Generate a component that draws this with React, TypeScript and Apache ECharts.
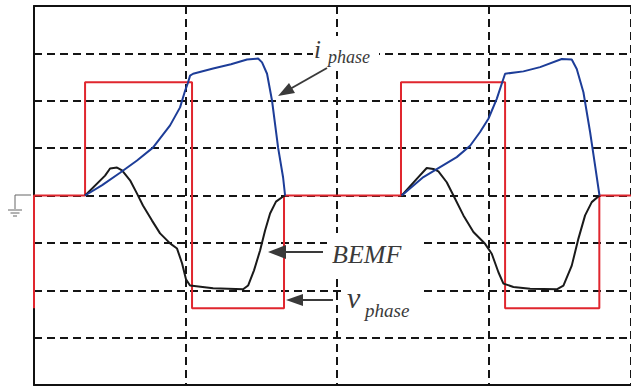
import React, { useEffect, useRef } from "react";
import * as echarts from "echarts";

// x in horizontal divisions, y in vertical divisions (zero = ground level)
const vPhase: [number, number][] = [
  [0, -2.38], [0, 0], [0.337, 0], [0.337, 2.39], [1.043, 2.39], [1.043, -2.38],
  [1.65, -2.38], [1.65, 0], [2.422, 0], [2.422, 2.39], [3.109, 2.39], [3.109, -2.38],
  [3.731, -2.38], [3.731, 0], [3.94, 0],
];

const iPhasePulse1: [number, number][] = [
  [0.337, 0], [0.45, 0.22], [0.568, 0.48], [0.68, 0.74], [0.785, 1.01], [0.898, 1.48],
  [0.964, 1.86], [0.997, 2.21], [1.016, 2.38], [1.03, 2.53], [1.05, 2.57], [1.182, 2.68],
  [1.3, 2.77], [1.406, 2.87], [1.479, 2.89], [1.505, 2.81], [1.538, 2.57], [1.571, 2.0],
  [1.611, 1.01], [1.644, 0.38], [1.657, 0],
];
const iPhasePulse2: [number, number][] = [
  [2.427, 0], [2.57, 0.39], [2.68, 0.6], [2.79, 0.81], [2.878, 1.05], [2.944, 1.34],
  [2.999, 1.62], [3.054, 2.04], [3.087, 2.36], [3.109, 2.57], [3.23, 2.62], [3.34, 2.71],
  [3.483, 2.88], [3.549, 2.87], [3.582, 2.67], [3.626, 2.18], [3.67, 1.34], [3.703, 0.63],
  [3.732, 0],
];

const bemfPulse1: [number, number][] = [
  [0.337, 0], [0.469, 0.42], [0.502, 0.57], [0.548, 0.59], [0.581, 0.53], [0.634, 0.32],
  [0.68, 0.04], [0.719, -0.21], [0.779, -0.53], [0.832, -0.8], [0.898, -1.01], [0.944, -1.12],
  [0.977, -1.43], [1.003, -1.77], [1.03, -1.9], [1.182, -1.96], [1.38, -1.98], [1.413, -1.9],
  [1.452, -1.58], [1.492, -1.16], [1.525, -0.74], [1.558, -0.38], [1.597, -0.13], [1.644, -0.02],
  [1.657, 0],
];
const bemfPulse2: [number, number][] = [
  [2.427, 0], [2.526, 0.35], [2.592, 0.58], [2.636, 0.56], [2.669, 0.51], [2.724, 0.28],
  [2.779, -0.07], [2.834, -0.42], [2.9, -0.77], [2.977, -1.02], [3.021, -1.23], [3.065, -1.62],
  [3.098, -1.86], [3.164, -1.93], [3.274, -1.97], [3.45, -1.98], [3.494, -1.9], [3.549, -1.48],
  [3.593, -0.91], [3.637, -0.42], [3.681, -0.14], [3.732, 0],
];

const labelI = "i";
const labelPhase = "phase";
const labelBemf = "BEMF";
const labelV = "v";

export default function App() {
  const ref = useRef<HTMLDivElement>(null);
  useEffect(() => {
    if (!ref.current) return;
    const chart = echarts.init(ref.current, null, { renderer: "svg" });
    const grid = { color: "#151515", width: 2, type: [8, 5] as number[] };
    const serif = "Liberation Serif, Times New Roman, serif";
    const txtColor = "#3a3a3a";
    const arrowColor = "#3a3a3a";
    const line = (data: [number, number][], color: string, z: number) => ({
      type: "line", data, showSymbol: false, lineStyle: { color, width: 2 }, z,
    });
    chart.setOption({
      animation: false,
      backgroundColor: "#fff",
      grid: { left: 34, top: 6, right: 0, bottom: 4 },
      xAxis: [
        {
          type: "value", min: 0, max: 3.94, interval: 1, position: "bottom",
          axisLine: { show: true, onZero: false, lineStyle: { color: "#111", width: 2 } },
          axisTick: { show: false }, axisLabel: { show: false },
          splitLine: { show: true, lineStyle: grid },
        },
        {
          type: "value", min: 0, max: 3.94, interval: 1, position: "top",
          axisLine: { show: true, onZero: false, lineStyle: { color: "#111", width: 2 } },
          axisTick: { show: false }, axisLabel: { show: false }, splitLine: { show: false },
        },
      ],
      yAxis: {
        type: "value", min: -4, max: 4, interval: 1,
        axisLine: { show: true, onZero: false, lineStyle: { color: "#111", width: 2 } },
        axisTick: { show: false }, axisLabel: { show: false },
        splitLine: { show: true, lineStyle: grid },
      },
      series: [
        line(vPhase, "#e0262e", 3),
        line(bemfPulse1, "#1a1a1a", 4),
        line(bemfPulse2, "#1a1a1a", 4),
        line(iPhasePulse1, "#1d3d98", 5),
        line(iPhasePulse2, "#1d3d98", 5),
      ],
      graphic: [
        // white boxes behind labels
        { type: "rect", z: 10, shape: { x: 313, y: 36, width: 66, height: 34 }, style: { fill: "#fff" } },
        { type: "rect", z: 10, shape: { x: 327, y: 233, width: 96, height: 44 }, style: { fill: "#fff" } },
        { type: "rect", z: 10, shape: { x: 343, y: 284, width: 80, height: 42 }, style: { fill: "#fff" } },
        // i_phase
        { type: "text", z: 11, x: 314, y: 49, style: { text: labelI, font: `italic 25px ${serif}`, fill: txtColor, textVerticalAlign: "middle" } },
        { type: "text", z: 11, x: 328, y: 57, style: { text: labelPhase, font: `italic 18px ${serif}`, fill: txtColor, textVerticalAlign: "middle" } },
        { type: "line", z: 11, shape: { x1: 327, y1: 68, x2: 290, y2: 89 }, style: { stroke: arrowColor, lineWidth: 2 } },
        { type: "polygon", z: 11, shape: { points: [[278, 96], [295, 93], [289, 83]] }, style: { fill: arrowColor } },
        // BEMF
        { type: "text", z: 11, x: 332, y: 254, style: { text: labelBemf, font: `italic 26px ${serif}`, fill: txtColor, textVerticalAlign: "middle" } },
        { type: "line", z: 11, shape: { x1: 323, y1: 252, x2: 284, y2: 252 }, style: { stroke: arrowColor, lineWidth: 2 } },
        { type: "polygon", z: 11, shape: { points: [[268, 252], [286, 245], [286, 259]] }, style: { fill: arrowColor } },
        // v_phase
        { type: "text", z: 11, x: 347, y: 297, style: { text: labelV, font: `italic 30px ${serif}`, fill: txtColor, textVerticalAlign: "middle" } },
        { type: "text", z: 11, x: 365, y: 310, style: { text: labelPhase, font: `italic 19px ${serif}`, fill: txtColor, textVerticalAlign: "middle" } },
        { type: "line", z: 11, shape: { x1: 333, y1: 300, x2: 300, y2: 300 }, style: { stroke: arrowColor, lineWidth: 2 } },
        { type: "polygon", z: 11, shape: { points: [[286, 300], [303, 294], [303, 306]] }, style: { fill: arrowColor } },
        // ground symbol
        { type: "line", z: 11, shape: { x1: 15, y1: 195, x2: 31, y2: 195 }, style: { stroke: "#666", lineWidth: 1 } },
        { type: "line", z: 11, shape: { x1: 15, y1: 195, x2: 15, y2: 209 }, style: { stroke: "#666", lineWidth: 1 } },
        { type: "line", z: 11, shape: { x1: 8, y1: 210, x2: 22, y2: 210 }, style: { stroke: "#666", lineWidth: 1 } },
        { type: "line", z: 11, shape: { x1: 10.5, y1: 213, x2: 19.5, y2: 213 }, style: { stroke: "#666", lineWidth: 1 } },
        { type: "line", z: 11, shape: { x1: 13, y1: 216, x2: 17, y2: 216 }, style: { stroke: "#666", lineWidth: 1 } },
      ],
    });
    return () => chart.dispose();
  }, []);
  return (
    <div
      ref={ref}
      style={{ position: "absolute", left: 0, top: 0, width: 631, height: 389 }}
    />
  );
}
